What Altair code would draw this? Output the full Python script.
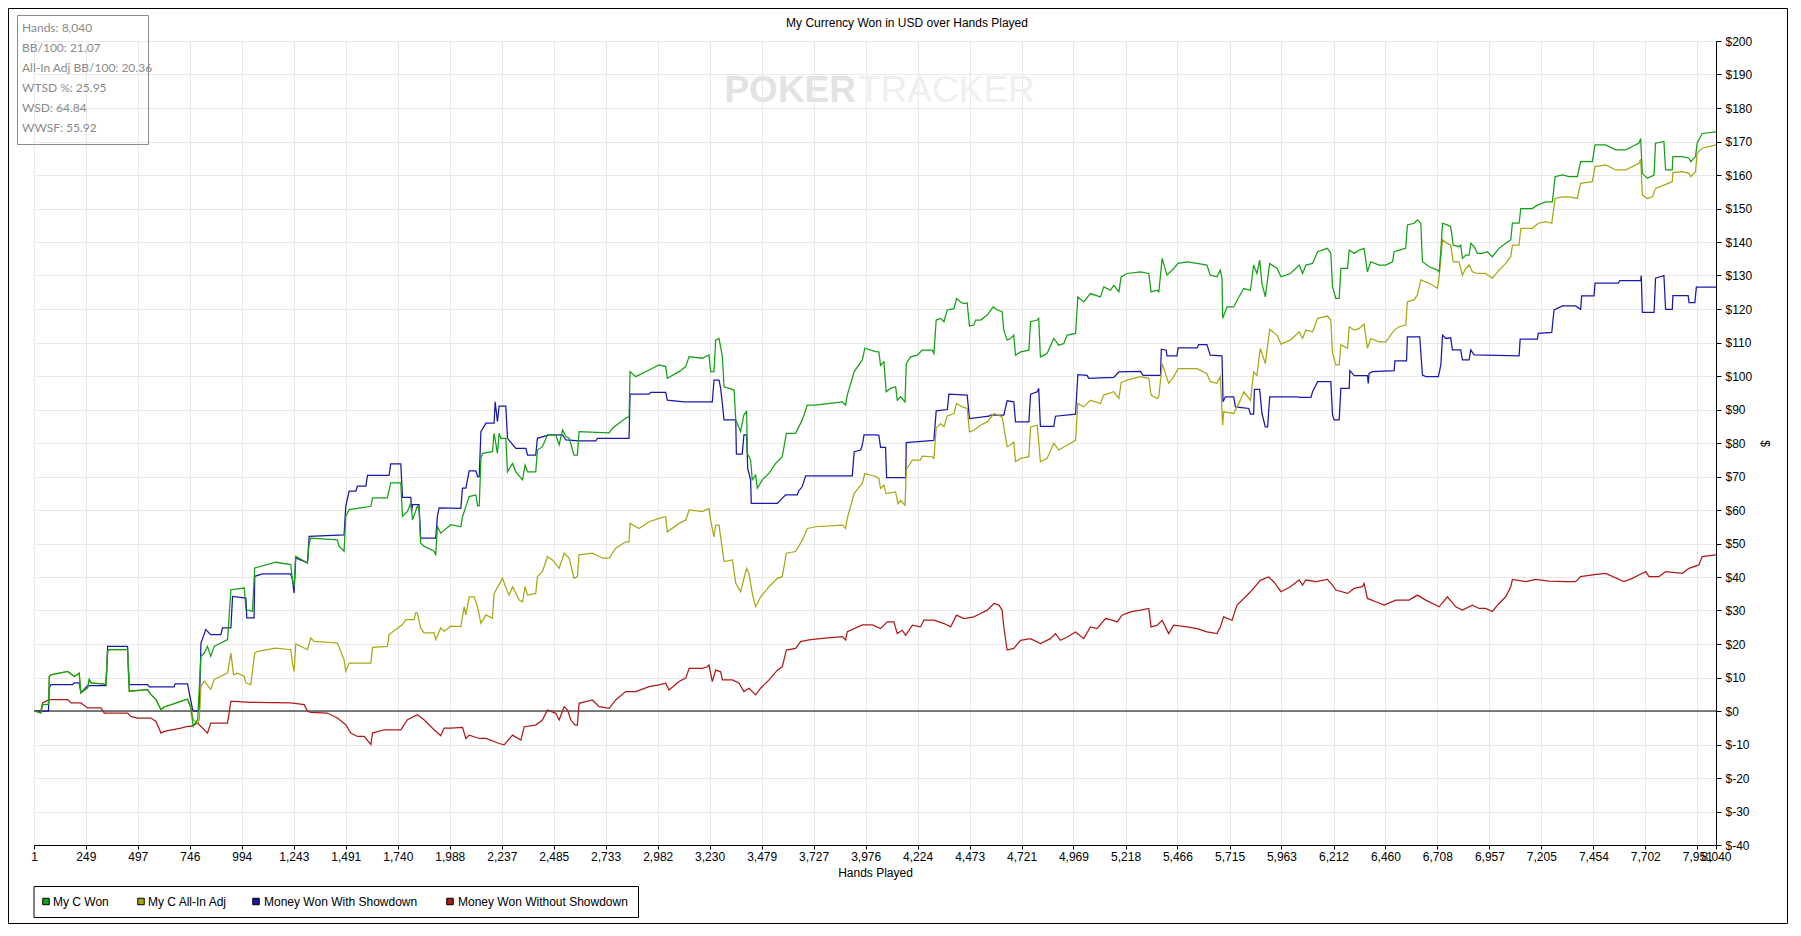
import altair as alt
import pandas as pd

# ---------------- data ----------------
SERIES_NAMES = ["My C Won", "My C All-In Adj", "Money Won With Showdown", "Money Won Without Showdown"]
SERIES_COLORS = ["#14a014", "#a8a814", "#1818aa", "#ac1a1a"]

X_TICKS = [1, 249, 497, 746, 994, 1243, 1491, 1740, 1988, 2237, 2485, 2733, 2982, 3230, 3479,
           3727, 3976, 4224, 4473, 4721, 4969, 5218, 5466, 5715, 5963, 6212, 6460, 6708, 6957,
           7205, 7454, 7702, 7951, 8040]
Y_TICKS = list(range(-40, 201, 10))

STAT_LABELS = ["Hands", "BB/100", "All-In Adj BB/100", "WTSD %", "WSD", "WWSF"]
STAT_VALUES = ["8,040", "21.07", "20.36", "25.95", "64.84", "55.92"]

CHART_TITLE = "My Currency Won in USD over Hands Played"
X_TITLE = "Hands Played"
Y_TITLE = "$"

# (hand, USD)
GREEN_PTS = [
    (1, 0), (34, -0.6), (42, 1.9), (70, 2.0), (74, 10.3), (82, 10.8), (162, 11.8), (194, 10.3), (217, 11.3),
    (225, 5.4), (257, 6.9), (265, 9.4), (273, 8.4), (337, 8.0), (345, 7.9), (353, 17.8), (361, 18.3),
    (448, 18.3), (456, 5.9), (544, 6.4), (560, 4.9), (584, 3.4), (608, 0.4), (623, 1.2), (703, 2.9),
    (735, 3.6), (751, 0.9), (762, -4.6), (783, -2.6), (799, 16.3), (815, 17.3), (830, 19.3), (846, 16.3),
    (862, 19.3), (926, 21.3), (942, 36.2), (1006, 36.7), (1014, 30.2), (1045, 29.8), (1056, 42.7),
    (1157, 44.4), (1228, 43.7), (1236, 39.2), (1244, 37.2), (1252, 46.2), (1308, 44.2), (1316, 50.1),
    (1324, 51.6), (1451, 51.1), (1459, 49.2), (1483, 47.7), (1491, 58.1), (1507, 60.1), (1611, 61.1),
    (1619, 63.6), (1690, 63.6), (1706, 68.1), (1754, 68.1), (1762, 58.1), (1786, 59.6), (1802, 62.1),
    (1810, 57.1), (1833, 61.1), (1841, 60.5), (1849, 50.1), (1865, 49.2), (1913, 47.7), (1921, 46.7),
    (1929, 55.1), (1945, 53.1), (1993, 55.6),
    (2041, 55.0), (2049, 58.0), (2065, 61.0), (2081, 64.0), (2113, 64.5), (2121, 61.2), (2129, 61.2),
    (2137, 75.4), (2145, 76.9), (2192, 77.4), (2200, 82.9), (2216, 76.9), (2224, 82.9), (2232, 81.4),
    (2256, 81.4), (2264, 71.4), (2288, 73.9), (2304, 71.4), (2336, 69.0), (2348, 73.4), (2360, 71.4),
    (2399, 71.4), (2407, 77.9), (2431, 78.9), (2455, 82.4), (2495, 82.4), (2511, 79.4), (2527, 83.9),
    (2543, 81.9), (2559, 81.4), (2582, 76.4), (2598, 76.4), (2606, 83.4), (2750, 83.0), (2766, 84.4),
    (2797, 85.9), (2829, 87.4), (2845, 87.9), (2850, 101.3), (2877, 99.8), (2941, 101.8), (2988, 103.3),
    (3020, 102.8), (3028, 99.3), (3084, 101.3), (3116, 102.8), (3132, 105.8), (3195, 105.3), (3227, 106.3),
    (3235, 101.3), (3251, 101.3), (3259, 110.7), (3275, 111.2), (3291, 105.8), (3299, 96.8), (3323, 96.3),
    (3347, 95.8), (3355, 86.9), (3378, 83.4), (3394, 88.4), (3407, 89.4), (3410, 76.9), (3426, 74.9),
    (3434, 69.0), (3450, 70.4), (3458, 66.5), (3482, 69.0), (3514, 71.0), (3546, 73.9), (3577, 75.9),
    (3597, 82.9), (3641, 82.9), (3673, 86.9), (3697, 91.3), (3737, 91.3), (3864, 92.3), (3880, 91.3),
    (3888, 94.3), (3921, 101.3), (3960, 104.8), (3972, 108.3), (4023, 107.3),
    (4039, 107.2), (4047, 103.2), (4063, 104.2), (4074, 95.3), (4095, 96.3), (4119, 96.8), (4127, 92.8),
    (4143, 93.8), (4164, 92.3), (4170, 103.7), (4191, 105.7), (4222, 106.2), (4246, 107.7), (4294, 107.7),
    (4302, 106.7), (4313, 116.7), (4334, 117.2), (4350, 116.2), (4366, 119.7), (4398, 120.1), (4410, 123.1),
    (4429, 122.1), (4445, 121.6), (4461, 121.8), (4472, 114.9), (4493, 115.2), (4501, 116.7), (4525, 116.7),
    (4557, 118.2), (4585, 120.6), (4605, 119.7), (4628, 119.2), (4636, 113.7), (4652, 110.7), (4668, 111.2),
    (4684, 112.2), (4692, 106.2), (4716, 107.2), (4756, 107.7), (4764, 116.2), (4796, 116.7), (4803, 117.2),
    (4811, 105.7), (4843, 106.7), (4875, 111.2), (4899, 109.2), (4923, 109.7), (4939, 112.2), (4979, 112.7),
    (4990, 123.6), (5018, 122.1), (5050, 124.6), (5098, 123.6), (5114, 126.6), (5146, 125.6), (5162, 127.1),
    (5186, 125.1), (5197, 129.6), (5225, 130.6), (5289, 131.1), (5329, 130.6), (5340, 125.1), (5369, 125.6),
    (5377, 125.1), (5393, 135.1), (5416, 130.1), (5448, 132.1), (5469, 133.6), (5512, 134.1), (5560, 133.6),
    (5607, 133.1), (5623, 130.1), (5655, 129.6), (5671, 131.6), (5679, 129.1), (5682, 117.2), (5703, 120.6),
    (5735, 120.6), (5751, 122.6), (5783, 126.1), (5815, 125.6), (5830, 133.1), (5846, 130.6), (5859, 134.6),
    (5870, 127.6), (5886, 123.6), (5907, 133.6), (5942, 132.1), (5961, 129.6), (6006, 130.6),
    (6048, 133.1), (6064, 130.6), (6080, 133.1), (6112, 133.6), (6136, 137.1), (6183, 138.1), (6199, 136.6),
    (6207, 126.7), (6223, 123.2), (6239, 123.2), (6247, 132.1), (6279, 132.1), (6287, 137.6), (6311, 136.6),
    (6335, 137.6), (6358, 138.1), (6374, 131.1), (6390, 134.1), (6430, 133.1), (6462, 133.1), (6494, 134.1),
    (6502, 137.1), (6526, 137.6), (6557, 138.1), (6565, 145.1), (6597, 145.6), (6613, 146.6), (6629, 145.6),
    (6637, 134.1), (6669, 132.6), (6709, 131.6), (6717, 131.1), (6725, 137.6), (6733, 145.6), (6756, 145.1),
    (6772, 144.6), (6784, 139.1), (6812, 138.6), (6820, 139.1), (6828, 135.1), (6844, 136.1), (6860, 136.1),
    (6868, 139.6), (6884, 138.6), (6900, 136.6), (6924, 136.6), (6947, 137.1), (6971, 135.6), (7003, 138.1),
    (7035, 139.6), (7059, 140.6), (7067, 145.6), (7099, 145.6), (7107, 150.0), (7162, 150.0), (7186, 151.0),
    (7226, 152.0), (7258, 152.0), (7271, 159.5), (7306, 160.0), (7338, 159.5), (7377, 159.5), (7393, 164.0),
    (7449, 164.0), (7462, 169.0), (7513, 169.0), (7561, 167.5), (7608, 167.5), (7640, 168.5), (7672, 169.5),
    (7680, 170.9), (7688, 160.5), (7712, 159.0), (7744, 160.0), (7751, 169.5), (7791, 170.0), (7799, 161.5),
    (7831, 161.5), (7834, 165.5), (7879, 165.5), (7911, 165.0), (7919, 164.0), (7942, 165.5), (7950, 169.5),
    (7974, 172.4), (8040, 172.9),
]

YELLOW_PTS = [
    (1, 0), (34, -0.6), (42, 1.9), (70, 2.0), (74, 10.3), (82, 10.8), (162, 11.8), (194, 10.3), (217, 11.3),
    (225, 5.4), (257, 6.9), (265, 9.4), (273, 8.4), (337, 8.0), (345, 7.9), (353, 17.8), (361, 18.3),
    (448, 18.3), (456, 5.9), (544, 6.4), (560, 4.9), (584, 3.4), (608, 0.4), (623, 1.2), (703, 2.9),
    (735, 3.6), (751, 0.9), (762, -2.6), (783, -3.6), (791, -2.6), (799, 7.4), (815, 8.9), (846, 6.4),
    (862, 9.4), (926, 11.3), (942, 17.3), (955, 10.8), (974, 11.3), (1006, 10.3), (1014, 8.4), (1037, 7.9),
    (1056, 17.3), (1069, 17.8), (1157, 18.8), (1228, 18.3), (1236, 14.3), (1244, 11.8), (1252, 20.0),
    (1308, 18.3), (1324, 21.8), (1340, 20.8), (1451, 20.3), (1483, 15.3), (1491, 11.8), (1507, 14.3),
    (1611, 14.3), (1619, 19.0), (1690, 19.3), (1698, 22.8), (1762, 25.8), (1778, 27.3), (1818, 27.3),
    (1825, 29.3), (1833, 29.3), (1849, 24.8), (1865, 23.3), (1913, 23.3), (1921, 21.3), (1945, 24.8),
    (1961, 23.8), (1993, 25.3),
    (2041, 25.2), (2057, 31.1), (2065, 28.7), (2081, 34.1), (2105, 34.1), (2121, 31.1), (2137, 26.2),
    (2161, 28.7), (2192, 27.7), (2200, 35.1), (2240, 39.6), (2264, 35.6), (2272, 34.6), (2288, 37.1),
    (2320, 33.1), (2336, 32.6), (2348, 37.1), (2360, 34.6), (2399, 35.1), (2407, 40.1), (2431, 41.6),
    (2455, 46.1), (2479, 45.1), (2511, 42.6), (2535, 47.1), (2559, 45.6), (2582, 39.6), (2598, 40.1),
    (2606, 46.6), (2670, 47.1), (2718, 45.6), (2750, 45.6), (2781, 48.6), (2829, 50.5), (2845, 50.5),
    (2850, 56.0), (2893, 54.5), (2941, 56.5), (2988, 57.5), (3020, 58.0), (3028, 53.5), (3084, 56.0),
    (3116, 57.0), (3132, 60.0), (3195, 59.5), (3227, 60.5), (3235, 57.0), (3251, 52.0), (3259, 55.5),
    (3275, 55.5), (3299, 44.6), (3339, 45.1), (3355, 38.1), (3378, 35.6), (3407, 42.6), (3418, 41.1),
    (3434, 35.1), (3450, 31.1), (3474, 34.1), (3514, 37.1), (3554, 39.6), (3577, 40.1), (3597, 47.1),
    (3641, 47.6), (3673, 51.0), (3697, 54.5), (3737, 55.0), (3864, 55.5), (3880, 54.5), (3888, 57.5),
    (3921, 65.0), (3960, 68.0), (3972, 70.9), (4023, 70.0),
    (4039, 69.4), (4047, 66.4), (4063, 67.4), (4074, 64.9), (4119, 65.4), (4130, 61.9), (4143, 62.9),
    (4164, 61.4), (4170, 72.1), (4199, 74.9), (4238, 74.9), (4246, 76.1), (4294, 75.9), (4302, 75.4),
    (4313, 84.5), (4334, 85.8), (4350, 84.8), (4366, 88.1), (4398, 88.8), (4410, 91.8), (4437, 90.8),
    (4461, 90.3), (4472, 83.3), (4493, 83.8), (4525, 85.3), (4557, 86.3), (4589, 88.8), (4628, 87.8),
    (4636, 84.8), (4652, 78.9), (4668, 79.4), (4684, 80.3), (4692, 74.4), (4716, 75.4), (4756, 75.9),
    (4764, 84.8), (4796, 85.3), (4811, 74.4), (4843, 75.4), (4875, 79.9), (4899, 77.9), (4939, 79.4),
    (4979, 80.8), (4990, 91.8), (5018, 90.8), (5050, 92.8), (5098, 91.8), (5114, 94.3), (5162, 95.3),
    (5186, 93.3), (5197, 98.0), (5225, 98.8), (5289, 99.8), (5329, 99.3), (5340, 94.3), (5369, 93.3),
    (5377, 93.8), (5393, 103.7), (5424, 97.8), (5448, 99.8), (5469, 102.2), (5560, 102.2), (5607, 100.7),
    (5623, 98.3), (5655, 97.8), (5671, 99.8), (5682, 85.3), (5687, 89.3), (5735, 88.8), (5767, 92.8),
    (5783, 95.3), (5815, 92.8), (5830, 101.2), (5846, 100.2), (5862, 108.2), (5886, 103.7), (5907, 113.9),
    (5942, 112.2), (5961, 109.5), (6006, 110.7),
    (6048, 113.2), (6064, 111.2), (6080, 113.7), (6112, 113.2), (6136, 117.2), (6183, 117.9), (6199, 116.7),
    (6207, 106.8), (6223, 103.3), (6239, 103.3), (6247, 109.3), (6279, 108.3), (6287, 114.7), (6311, 113.7),
    (6335, 114.2), (6358, 115.5), (6374, 108.3), (6390, 111.2), (6430, 110.2), (6462, 110.2), (6502, 113.7),
    (6526, 114.7), (6557, 115.2), (6565, 122.2), (6597, 122.7), (6613, 124.2), (6629, 128.7), (6669, 127.7),
    (6709, 126.2), (6717, 129.7), (6733, 140.6), (6756, 139.6), (6772, 139.1), (6784, 134.1), (6812, 134.1),
    (6828, 130.1), (6844, 132.1), (6860, 133.1), (6876, 131.1), (6900, 130.6), (6939, 130.6), (6971, 129.2),
    (7003, 131.6), (7035, 133.6), (7059, 135.6), (7067, 139.1), (7099, 139.1), (7107, 144.1), (7162, 144.1),
    (7191, 145.6), (7226, 146.1), (7255, 145.6), (7271, 153.0), (7306, 153.5), (7338, 153.5), (7377, 153.0),
    (7393, 157.5), (7449, 158.0), (7462, 162.5), (7513, 163.0), (7561, 161.5), (7608, 161.5), (7640, 162.5),
    (7672, 163.5), (7680, 164.7), (7688, 154.0), (7712, 153.0), (7736, 153.5), (7751, 156.0), (7791, 157.0),
    (7831, 158.0), (7834, 160.7), (7879, 161.0), (7911, 160.5), (7919, 159.5), (7942, 161.0), (7950, 166.5),
    (7974, 168.0), (8040, 169.0),
]

BLUE_PTS = [
    (1, 0), (70, 0), (74, 6.9), (82, 7.9), (186, 7.9), (194, 8.4), (217, 8.4), (225, 5.4), (257, 7.6),
    (345, 7.6), (353, 19.3), (448, 19.3), (456, 7.9), (544, 7.9), (552, 7.2), (671, 7.2), (675, 8.1),
    (735, 8.1), (743, 5.4), (759, 0.4), (767, 0), (791, 0), (799, 20.3), (822, 24.3), (846, 22.8),
    (894, 22.8), (902, 24.8), (942, 24.8), (950, 34.2), (1014, 33.7), (1018, 27.8), (1053, 27.8),
    (1056, 40.2), (1093, 40.9), (1228, 40.9), (1236, 39.2), (1244, 35.2), (1252, 45.7), (1308, 44.2),
    (1316, 52.1), (1483, 52.6), (1491, 61.1), (1507, 65.6), (1539, 65.6), (1547, 67.1), (1587, 67.1),
    (1595, 70.3), (1698, 70.3), (1706, 73.8), (1754, 73.8), (1762, 63.8), (1802, 63.8), (1806, 59.6),
    (1810, 61.6), (1841, 61.6), (1849, 51.6), (1921, 51.6), (1929, 58.1), (1937, 60.6),
    (2041, 60.5), (2049, 66.5), (2065, 66.5), (2081, 71.7), (2113, 71.7), (2121, 70.0), (2129, 70.0),
    (2137, 83.4), (2161, 85.9), (2200, 85.9), (2205, 92.3), (2216, 86.4), (2224, 91.0), (2256, 91.0),
    (2264, 81.4), (2304, 78.4), (2352, 78.4), (2360, 76.4), (2399, 76.4), (2407, 81.4), (2463, 82.4),
    (2527, 82.4), (2543, 80.9), (2606, 80.6), (2686, 80.6), (2694, 81.4), (2845, 81.4), (2850, 94.6),
    (2941, 94.6), (2949, 95.1), (3020, 95.1), (3028, 92.8), (3108, 92.3), (3243, 92.3), (3251, 98.8),
    (3275, 98.8), (3283, 96.3), (3299, 86.9), (3355, 86.9), (3358, 76.7), (3386, 76.7), (3394, 82.4),
    (3407, 82.4), (3412, 72.4), (3426, 69.0), (3429, 62.0), (3554, 62.0), (3562, 62.5), (3593, 64.5),
    (3649, 64.5), (3657, 65.8), (3673, 67.0), (3689, 70.2), (3912, 70.2), (3921, 77.4), (3952, 77.9),
    (3960, 79.4), (3968, 82.4), (4023, 82.4),
    (4039, 82.3), (4047, 78.7), (4071, 78.7), (4076, 69.7), (4167, 69.7), (4170, 80.1), (4214, 80.3),
    (4302, 80.8), (4313, 89.6), (4366, 90.0), (4374, 94.6), (4461, 94.3), (4472, 87.3), (4565, 88.0),
    (4573, 88.3), (4636, 88.3), (4652, 92.6), (4684, 92.3), (4692, 86.3), (4756, 86.3), (4764, 94.6),
    (4796, 95.3), (4803, 96.3), (4811, 85.0), (4875, 85.0), (4883, 88.0), (4979, 88.6), (4990, 100.4),
    (5034, 100.2), (5042, 99.3), (5162, 99.6), (5186, 101.2), (5289, 101.4), (5302, 100.2), (5385, 100.2),
    (5389, 108.0), (5412, 107.7), (5416, 106.0), (5464, 106.0), (5469, 108.4), (5560, 108.4), (5568, 109.4),
    (5607, 109.4), (5623, 106.2), (5679, 106.0), (5684, 92.3), (5695, 93.8), (5735, 93.8), (5743, 90.8),
    (5807, 90.3), (5815, 88.6), (5830, 88.6), (5834, 96.0), (5859, 96.0), (5870, 88.8), (5886, 84.8),
    (5897, 84.8), (5907, 93.8), (6040, 93.8),
    (6048, 93.6), (6104, 93.6), (6112, 95.3), (6136, 98.3), (6199, 98.3), (6207, 88.4), (6215, 86.9),
    (6239, 86.9), (6247, 96.3), (6287, 96.3), (6290, 101.6), (6311, 100.1), (6374, 100.1), (6378, 97.8),
    (6382, 100.8), (6398, 101.3), (6502, 101.6), (6505, 104.5), (6561, 104.5), (6565, 111.7), (6624, 111.7),
    (6637, 100.3), (6653, 99.8), (6713, 99.8), (6725, 103.3), (6733, 112.2), (6749, 111.2), (6772, 111.4),
    (6780, 107.8), (6820, 107.8), (6828, 104.8), (6860, 104.8), (6868, 107.8), (6884, 106.3), (7099, 106.0),
    (7104, 111.0), (7186, 111.0), (7191, 112.7), (7255, 113.0), (7266, 119.7), (7306, 120.9), (7369, 120.9),
    (7393, 119.9), (7398, 123.9), (7457, 123.9), (7462, 127.7), (7573, 127.7), (7580, 128.5), (7680, 128.5),
    (7683, 130.0), (7688, 119.0), (7744, 119.0), (7751, 129.2), (7791, 130.0), (7799, 119.9), (7831, 119.9),
    (7834, 124.0), (7907, 124.0), (7911, 121.9), (7939, 121.9), (7946, 126.5), (8040, 126.5),
]

RED_PTS = [
    (1, 0), (34, 0), (42, 2.4), (74, 3.4), (162, 3.4), (178, 2.4), (225, 2.4), (257, 0.9), (321, 0.9),
    (337, -0.6), (448, -0.6), (464, -1.6), (496, -2.1), (560, -2.1), (584, -3.1), (608, -6.6), (623, -6.1),
    (703, -5.1), (735, -4.6), (751, -4.6), (783, -3.6), (830, -6.6), (846, -3.6), (926, -3.6), (942, 2.9),
    (958, 2.9), (1037, 2.6), (1228, 2.4), (1292, 1.9), (1308, -0.1), (1324, -0.4), (1403, -0.6),
    (1451, -2.1), (1491, -4.1), (1515, -6.6), (1547, -7.6), (1579, -7.6), (1611, -10.0), (1619, -6.6),
    (1674, -5.6), (1754, -5.6), (1786, -2.6), (1833, -1.1), (1865, -2.6), (1913, -5.6), (1945, -7.4),
    (1961, -5.1), (1993, -5.1),
    (2049, -4.9), (2065, -8.2), (2081, -7.2), (2129, -8.2), (2161, -8.2), (2224, -9.7), (2248, -10.1),
    (2288, -7.2), (2328, -8.7), (2344, -4.7), (2399, -4.2), (2431, -2.7), (2455, 0.3), (2495, -0.7),
    (2511, -2.7), (2535, 1.3), (2551, 0.3), (2567, -2.7), (2587, -4.2), (2598, -4.2), (2606, 2.3),
    (2638, 2.8), (2670, 3.3), (2702, 1.3), (2750, 0.8), (2781, 3.3), (2829, 5.8), (2877, 5.8), (2941, 7.3),
    (2988, 7.8), (3020, 8.3), (3036, 6.3), (3084, 8.8), (3116, 9.8), (3132, 12.7), (3195, 12.7),
    (3219, 13.2), (3227, 13.7), (3243, 8.8), (3259, 12.2), (3283, 11.7), (3291, 9.3), (3339, 9.3),
    (3371, 8.3), (3394, 5.8), (3418, 6.8), (3450, 4.8), (3474, 6.8), (3514, 9.3), (3554, 12.2),
    (3577, 13.2), (3597, 18.2), (3641, 18.7), (3665, 20.7), (3705, 21.2), (3769, 21.7), (3864, 22.2),
    (3880, 21.2), (3888, 23.7), (3960, 25.7), (4008, 25.7),
    (4047, 24.6), (4079, 26.6), (4111, 26.6), (4127, 23.1), (4151, 24.1), (4167, 22.6), (4199, 25.6),
    (4238, 25.1), (4254, 27.1), (4302, 27.1), (4350, 26.1), (4382, 25.1), (4410, 28.6), (4445, 27.6),
    (4493, 28.1), (4525, 29.1), (4557, 30.1), (4589, 32.1), (4613, 31.6), (4628, 30.1), (4636, 25.1),
    (4652, 18.2), (4684, 18.7), (4716, 21.1), (4764, 21.6), (4811, 20.1), (4859, 21.6), (4883, 23.1),
    (4907, 21.1), (4939, 22.1), (4979, 23.6), (5018, 21.6), (5050, 25.1), (5082, 24.6), (5122, 27.6),
    (5154, 27.1), (5178, 26.6), (5201, 28.6), (5241, 29.6), (5289, 30.1), (5329, 30.6), (5340, 25.1),
    (5369, 25.6), (5393, 27.1), (5424, 23.1), (5448, 25.6), (5512, 25.1), (5560, 24.6), (5607, 23.6),
    (5655, 23.1), (5671, 25.1), (5687, 28.1), (5727, 27.1), (5751, 31.6), (5783, 33.6), (5815, 35.6),
    (5830, 36.6), (5862, 39.0), (5902, 40.0), (5926, 38.6), (5961, 35.6), (6006, 37.1),
    (6048, 39.1), (6064, 37.6), (6080, 39.1), (6128, 38.6), (6183, 39.3), (6207, 37.6), (6223, 36.1),
    (6279, 35.1), (6311, 36.6), (6350, 37.1), (6358, 38.1), (6374, 33.6), (6414, 32.6), (6454, 31.6),
    (6510, 33.1), (6573, 33.1), (6613, 34.6), (6653, 33.1), (6717, 31.1), (6756, 34.1), (6796, 31.1),
    (6828, 30.1), (6876, 31.6), (6908, 30.6), (6939, 30.6), (6971, 29.7), (7003, 32.1), (7035, 34.1),
    (7059, 37.1), (7067, 39.3), (7131, 38.6), (7178, 39.3), (7242, 38.8), (7322, 38.6), (7369, 38.6),
    (7393, 40.1), (7449, 40.6), (7513, 41.1), (7600, 38.6), (7640, 39.6), (7688, 41.1), (7704, 41.6),
    (7720, 40.1), (7767, 40.1), (7799, 41.6), (7879, 41.1), (7911, 42.6), (7958, 43.6), (7974, 46.1),
    (8040, 46.6),
]

# ---------------- layout ----------------
W, H = 1682, 804
PAD = {"left": 26, "top": 33, "right": 72, "bottom": 79}
FONT = "Liberation Sans"


def px(page_x):
    return page_x - (PAD["left"] + 8)


def py(page_y):
    return page_y - (PAD["top"] + 8)


X_AXIS = alt.Axis(values=X_TICKS, labelExpr="format(datum.value, ',')", grid=True, gridColor="#e9e9e9",
                  domainColor="black", tickColor="black", tickSize=4, labelFontSize=12, labelFont=FONT,
                  labelColor="black", labelOverlap=False, labelFlush=False, labelBound=False, labelPadding=2,
                  title=X_TITLE, titleFont=FONT, titleFontSize=12, titleFontWeight="normal",
                  titleColor="black", titlePadding=5)
Y_AXIS = alt.Axis(orient="right", values=Y_TICKS, labelExpr="'$' + datum.value", grid=True,
                  gridColor="#e9e9e9", domainColor="black", tickColor="black", tickSize=5,
                  labelFontSize=12, labelFont=FONT, labelColor="black", labelOverlap=False,
                  labelFlush=False, labelPadding=4, title=Y_TITLE, titleFont=FONT, titleFontSize=12,
                  titleFontWeight="normal", titleColor="black", titlePadding=6)

X_ENC = alt.X("hand:Q", scale=alt.Scale(domain=[1, 8040], nice=False, zero=False), axis=X_AXIS)
Y_ENC = alt.Y("usd:Q", scale=alt.Scale(domain=[-40, 200], nice=False, zero=False), axis=Y_AXIS)

ONE = pd.DataFrame({"k": [0]})


def text_layer(txt, x, y, **kw):
    return alt.Chart(pd.DataFrame({"t": [txt]})).mark_text(**kw).encode(
        x=alt.value(x), y=alt.value(y), text="t:N")


def rect_layer(x, y, x2, y2, stroke):
    return alt.Chart(ONE).mark_rect(fillOpacity=0, stroke=stroke, strokeWidth=1).encode(
        x=alt.value(x), y=alt.value(y), x2=alt.value(x2), y2=alt.value(y2))


def line_layer(pts, color):
    df = pd.DataFrame({"hand": [p[0] for p in pts], "usd": [p[1] for p in pts]})
    df["idx"] = range(len(df))
    return alt.Chart(df).mark_line(color=color, strokeWidth=1.25).encode(
        x=X_ENC, y=Y_ENC, order="idx:Q")


layers = []
# outer frame
layers.append(rect_layer(px(8.5), py(8.5), px(8 + W + PAD["left"] + PAD["right"] - 0.5),
                         py(8 + H + PAD["top"] + PAD["bottom"] - 0.5), "black"))
# watermark
layers.append(text_layer("POKER", px(856), py(91), align="right", baseline="middle", font=FONT,
                         fontSize=37, fontWeight="bold", color="#e3e3e3"))
layers.append(text_layer("TRACKER", px(858), py(91), align="left", baseline="middle", font=FONT,
                         fontSize=37, fontWeight="normal", color="#efefef"))
# title
layers.append(text_layer(CHART_TITLE, px(907), py(23), align="center", baseline="middle", font=FONT,
                         fontSize=12, color="black"))
# zero line
layers.append(alt.Chart(pd.DataFrame({"usd": [0]})).mark_rule(color="black", strokeWidth=1).encode(y=Y_ENC))
# series lines (drawn so that green ends on top)
layers.append(line_layer(RED_PTS, SERIES_COLORS[3]))
layers.append(line_layer(BLUE_PTS, SERIES_COLORS[2]))
layers.append(line_layer(YELLOW_PTS, SERIES_COLORS[1]))
layers.append(line_layer(GREEN_PTS, SERIES_COLORS[0]))

# stats box
layers.append(rect_layer(px(17.5), py(15.5), px(148.5), py(144.5), "#8a8a8a"))
stats_text = "\n".join(f"{l}: {v}" for l, v in zip(STAT_LABELS, STAT_VALUES))
layers.append(text_layer(stats_text, px(22), py(27.5), align="left", baseline="middle", font="Lato",
                         fontSize=12, lineHeight=20.1, lineBreak="\n", color="#8a8a8a"))

# legend
LEG_SQ_X = [46, 141, 256, 450]
LEG_TX_X = [53, 148, 264, 458]
LEG_Y = 901.5
layers.append(rect_layer(px(34), py(886.5), px(638.5), py(917.5), "black"))
for name, col, sx, tx in zip(SERIES_NAMES, SERIES_COLORS, LEG_SQ_X, LEG_TX_X):
    layers.append(alt.Chart(ONE).mark_square(size=42, filled=True, fill=col, stroke="black",
                                             strokeWidth=1, opacity=1).encode(
        x=alt.value(px(sx)), y=alt.value(py(LEG_Y))))
    layers.append(text_layer(name, px(tx), py(LEG_Y), align="left", baseline="middle", font=FONT,
                             fontSize=12, color="black"))

chart = alt.layer(*layers).properties(
    width=W, height=H, padding=PAD, background="white",
    autosize=alt.AutoSizeParams(type="none"),
).configure_view(stroke="black", strokeWidth=1)

chart.save("out.html", embed_options={"renderer": "svg", "actions": False})
